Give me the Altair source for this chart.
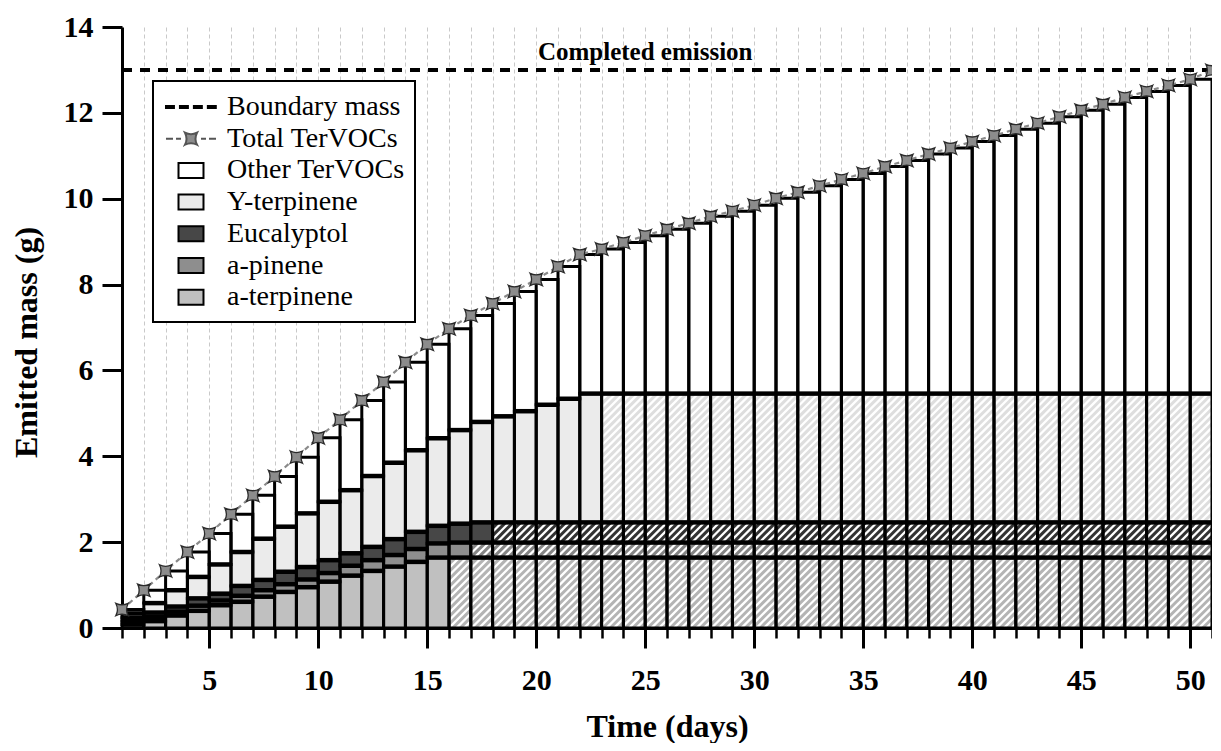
import math
import altair as alt
import pandas as pd

# ---------------- data ----------------
days = list(range(1, 51))

a_terpinene = [0.08, 0.16, 0.29, 0.40, 0.53, 0.61, 0.73, 0.84, 0.95, 1.08,
               1.22, 1.33, 1.43, 1.54, 1.64] + [1.64] * 35
a_pinene = [0.08, 0.10, 0.09, 0.12, 0.11, 0.14, 0.15, 0.18, 0.18, 0.20,
            0.23, 0.25, 0.27, 0.30, 0.33] + [0.35] * 35
eucalyptol = [0.08, 0.10, 0.12, 0.17, 0.16, 0.23, 0.24, 0.29, 0.29, 0.30,
              0.29, 0.31, 0.37, 0.40, 0.41, 0.44] + [0.47] * 34
y_terpinene = [0.10, 0.22, 0.38, 0.50, 0.68, 0.79, 0.96, 1.05, 1.25, 1.36,
               1.47, 1.65, 1.78, 1.90, 2.04, 2.18, 2.34, 2.47, 2.59, 2.74,
               2.88] + [3.00] * 29
other_tervocs = [0.09, 0.30, 0.45, 0.58, 0.72, 0.88, 1.01, 1.17, 1.31, 1.49,
                 1.64, 1.76, 1.88, 2.05, 2.19, 2.36, 2.48, 2.63, 2.79, 2.92,
                 3.08, 3.24, 3.37, 3.52, 3.68, 3.83, 3.97, 4.13, 4.25, 4.39,
                 4.55, 4.69, 4.84, 4.99, 5.13, 5.29, 5.43, 5.58, 5.72, 5.87,
                 6.01, 6.16, 6.30, 6.45, 6.60, 6.74, 6.90, 7.04, 7.18, 7.32]

total_days = list(range(1, 52))
total_tervocs = [0.43, 0.88, 1.33, 1.77, 2.20, 2.65, 3.09, 3.53, 3.98, 4.43,
                 4.85, 5.30, 5.73, 6.19, 6.61, 6.97, 7.28, 7.56, 7.84, 8.12,
                 8.42, 8.70, 8.83, 8.98, 9.14, 9.29, 9.43, 9.59, 9.71, 9.85,
                 10.01, 10.15, 10.30, 10.45, 10.59, 10.75, 10.89, 11.04, 11.18, 11.33,
                 11.47, 11.62, 11.76, 11.91, 12.06, 12.20, 12.36, 12.50, 12.64, 12.78,
                 12.99]

boundary_mass = [13.0]
annotation_text = ["Completed emission"]
annotation_day = [25]

# last day of emission for each compound (afterwards the segment is hatched)
completion_day = {"a-terpinene": 15, "a-pinene": 16, "Eucalyptol": 17, "Y-terpinene": 22}

legend_keys = ["Boundary mass", "Total TerVOCs", "Other TerVOCs", "Y-terpinene",
               "Eucalyptol", "a-pinene", "a-terpinene"]
stack_order = ["a-terpinene", "a-pinene", "Eucalyptol", "Y-terpinene", "Other TerVOCs"]
major_ticks = [5, 10, 15, 20, 25, 30, 35, 40, 45, 50]
y_ticks = [0, 2, 4, 6, 8, 10, 12, 14]

# ---------------- styling ----------------
W, H = 1090, 601
X_DOM = [1, 51]
Y_DOM = [0, 14]
FONT = "Liberation Serif"

fill_range = ["black", "#8c8c8c", "white", "#ebebeb", "#474747", "#8e8e8e", "#c0c0c0"]
stroke_range = ["black", "#555555", "black", "black", "black", "black", "black"]
P_BOUND = ("M-1.667,-0.06H-1.137V0.06H-1.667Z M-0.737,-0.06H-0.207V0.06H-0.737Z "
           "M0.193,-0.06H0.723V0.06H0.193Z M1.123,-0.06H1.653V0.06H1.123Z")
P_TOTAL = ("M-1.667,0H-1.2M-1,0H-0.667M0.667,0H1M1.2,0H1.667"
           "M-0.4,-0.4Q0,-0.2 0.4,-0.4Q0.2,0 0.4,0.4Q0,0.2 -0.4,0.4Q-0.2,0 -0.4,-0.4Z")
P_BOX = "M-0.833,-0.5H0.833V0.5H-0.833Z"
STAR = "M-1,-1Q0,-0.5 1,-1Q0.5,0 1,1Q0,0.5 -1,1Q-0.5,0 -1,-1Z"
shape_range = [P_BOUND, P_TOTAL, P_BOX, P_BOX, P_BOX, P_BOX, P_BOX]
hatch_color = {"a-terpinene": "#b4b4b4", "a-pinene": "#858585",
               "Eucalyptol": "#333333", "Y-terpinene": "#dedede"}

# ---------------- derived tables ----------------
series = {"a-terpinene": a_terpinene, "a-pinene": a_pinene, "Eucalyptol": eucalyptol,
          "Y-terpinene": y_terpinene, "Other TerVOCs": other_tervocs}
rows = []
for i, d in enumerate(days):
    base = 0.0
    for name in stack_order:
        v = series[name][i]
        rows.append(dict(day=d, day_end=d + 1, key=name, y0=base, y1=base + v,
                         hatched=(name in completion_day and d > completion_day[name])))
        base += v
seg = pd.DataFrame(rows)

# diagonal hatch lines (45 degrees on screen) clipped to each hatched segment
px_day = W / (X_DOM[1] - X_DOM[0])
px_g = H / (Y_DOM[1] - Y_DOM[0])
k = px_day / px_g
step_b = k * (7.5 / px_day)
hrows = []
for r in seg[seg.hatched].itertuples():
    x0, x1, y0, y1 = r.day, r.day_end, r.y0, r.y1
    n0 = math.ceil((y0 - k * x1) / step_b)
    n1 = math.floor((y1 - k * x0) / step_b)
    for n in range(n0, n1 + 1):
        b = n * step_b
        xa = max(x0, (y0 - b) / k)
        xb = min(x1, (y1 - b) / k)
        if xb - xa > 1e-6:
            hrows.append(dict(key=r.key, hx=xa, hy=k * xa + b, hx2=xb, hy2=k * xb + b))
hatch = pd.DataFrame(hrows)

total = pd.DataFrame({"day": total_days, "total": total_tervocs})

xs = alt.Scale(domain=X_DOM, nice=False, zero=False)
ys = alt.Scale(domain=Y_DOM, nice=False, zero=False)
fill_scale = alt.Scale(domain=legend_keys, range=fill_range)

legend = alt.Legend(title=None, orient="none", legendX=31, legendY=54, direction="vertical",
                    labelFont=FONT, labelFontSize=28, labelColor="black", labelLimit=500,
                    labelOffset=20, symbolOffset=12, symbolSize=900, symbolStrokeWidth=2,
                    padding=10, rowPadding=1.7, strokeColor="black", fillColor="white",
                    symbolOpacity=1)

axis_major = alt.Axis(values=major_ticks, title="Time (days)", grid=False, orient="bottom",
                      tickSize=20, tickWidth=3, tickColor="black",
                      domain=True, domainColor="black", domainWidth=3,
                      labelFont=FONT, labelFontSize=30, labelFontWeight="bold",
                      labelColor="black", labelPadding=17,
                      titleFont=FONT, titleFontSize=32, titleFontWeight="bold",
                      titleColor="black", titleY=108, titleBaseline="alphabetic")
axis_minor = alt.Axis(values=total_days, title=None, labels=False, domain=False,
                      orient="bottom",
                      tickSize=10, tickWidth=2.5, tickColor="black",
                      grid=True, gridColor="#c9c9c9", gridDash=[4, 3], gridWidth=1)
axis_y = alt.Axis(values=y_ticks, title="Emitted mass (g)", grid=False, orient="left",
                  tickSize=20, tickWidth=3, tickColor="black",
                  domain=True, domainColor="black", domainWidth=3,
                  labelFont=FONT, labelFontSize=30, labelFontWeight="bold",
                  labelColor="black", labelPadding=9,
                  titleFont=FONT, titleFontSize=32, titleFontWeight="bold",
                  titleColor="black", titleX=-86, titleY=315, titleAngle=270,
                  titleBaseline="alphabetic")


def Y(field):
    return alt.Y(field, scale=ys, axis=axis_y)


base_seg = alt.Chart(seg)

bars_fill = base_seg.mark_rect(strokeWidth=0).encode(
    x=alt.X("day:Q", scale=xs, axis=axis_major),
    x2="day_end:Q",
    y=Y("y0:Q"),
    y2="y1:Q",
    fill=alt.Fill("key:N", scale=fill_scale, legend=legend),
)

white_hatched = base_seg.transform_filter("datum.hatched").mark_rect(
    fill="white", strokeWidth=0).encode(
    x=alt.X("day:Q", scale=xs, axis=None), x2="day_end:Q",
    y=Y("y0:Q"), y2="y1:Q")

hatch_layers = []
for name, col in hatch_color.items():
    hatch_layers.append(
        alt.Chart(hatch[hatch.key == name]).mark_rule(color=col, strokeWidth=3).encode(
            x=alt.X("hx:Q", scale=xs, axis=None), x2="hx2:Q",
            y=Y("hy:Q"), y2="hy2:Q"))

outlines = base_seg.mark_rect(fillOpacity=0, stroke="black", strokeWidth=3).encode(
    x=alt.X("day:Q", scale=xs, axis=None), x2="day_end:Q",
    y=Y("y0:Q"), y2="y1:Q")

inner_borders = base_seg.transform_filter("datum.key != 'Other TerVOCs'").mark_rule(
    color="black", strokeWidth=4.5).encode(
    x=alt.X("day:Q", scale=xs, axis=None), x2="day_end:Q",
    y=Y("y1:Q"))

boundary = alt.Chart(pd.DataFrame({"mass": boundary_mass})).mark_rule(
    color="black", strokeWidth=4, strokeDash=[10, 8]).encode(
    y=Y("mass:Q"))

total_line = alt.Chart(total).mark_line(
    color="#8a8a8a", strokeWidth=2.2, strokeDash=[5, 4]).encode(
    x=alt.X("day:Q", scale=xs, axis=axis_minor),
    y=Y("total:Q"))

total_pts = alt.Chart(total).mark_point(
    shape=STAR, size=150, filled=True, fill="#8c8c8c", stroke="#2a2a2a",
    strokeWidth=1.3, opacity=1).encode(
    x=alt.X("day:Q", scale=xs, axis=None),
    y=Y("total:Q"))

label = alt.Chart(pd.DataFrame({"day": annotation_day, "mass": boundary_mass,
                                "txt": annotation_text})).mark_text(
    font=FONT, fontSize=25, fontWeight="bold", color="black",
    baseline="alphabetic", align="center", dy=-10).encode(
    x=alt.X("day:Q", scale=xs, axis=None),
    y=Y("mass:Q"),
    text="txt:N")

legend_pts = alt.Chart(pd.DataFrame({"key": legend_keys})).mark_point(
    filled=True, clip=True).encode(
    x=alt.value(-500), y=alt.value(-500),
    shape=alt.Shape("key:N", scale=alt.Scale(domain=legend_keys, range=shape_range),
                    legend=legend),
    fill=alt.Fill("key:N", scale=fill_scale, legend=legend),
    stroke=alt.Stroke("key:N", scale=alt.Scale(domain=legend_keys, range=stroke_range),
                      legend=legend),
)

chart = alt.layer(
    bars_fill, white_hatched, *hatch_layers, outlines, inner_borders,
    boundary, total_line, total_pts, label, legend_pts
).resolve_axis(x="independent", y="shared").properties(
    width=W, height=H,
    padding={"left": 114, "top": 19, "right": 0, "bottom": 115},
    autosize=alt.AutoSizeParams(type="none"),
    background="white",
).configure_view(strokeWidth=0).configure_legend(strokeWidth=2)

chart.save("out.html", embed_options={"renderer": "svg", "actions": False})
